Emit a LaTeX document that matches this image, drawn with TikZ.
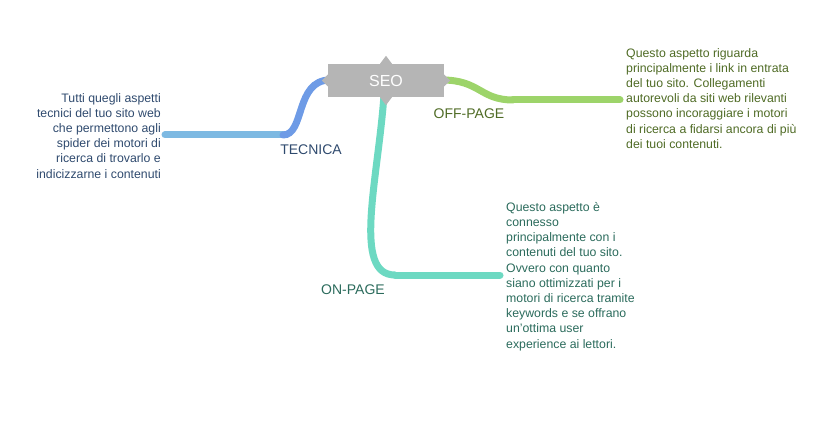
\documentclass[tikz,border=0pt]{standalone}
\usepackage{fontspec}
\setmainfont{Liberation Sans}
\usetikzlibrary{calc}
\definecolor{seogray}{HTML}{B5B5B5}
\definecolor{tecblue}{HTML}{6E9BE6}
\definecolor{teclight}{HTML}{7DB9E2}
\definecolor{offgreen}{HTML}{9DD46A}
\definecolor{onteal}{HTML}{6DD9C2}
\definecolor{tectext}{HTML}{2F4A6E}
\definecolor{offtext}{HTML}{4F6B25}
\definecolor{ontext}{HTML}{2B6B5C}
\tikzset{
  branch/.style={line width=7pt, line cap=round},
  note/.style={font=\fontsize{12.3}{15.2}\selectfont, inner sep=0pt, align=left},
  tag/.style={font=\fontsize{14}{16}\selectfont, inner sep=0pt}
}
\begin{document}
\begin{tikzpicture}[x=1pt,y=-1pt]
  \useasboundingbox (0,0) rectangle (836,425);

  % branches
  \coordinate (tl) at (165,135);
  \coordinate (tk) at (283,135);
  \draw[branch, teclight] (tl) -- (tk);
  \draw[branch, tecblue] (tk) .. controls (305,135) and (295,80) .. (330,80);

  \coordinate (ok) at (513,100);
  \coordinate (or) at (620,100);
  \draw[branch, offgreen] (442,80) .. controls (480,80) and (480,100) .. (ok);
  \draw[branch, offgreen] (ok) -- (or);

  \coordinate (nk) at (395,275);
  \coordinate (nr) at (500,275);
  \draw[branch, onteal] (384,95) .. controls (378,180) and (352,275) .. (nk);
  \draw[branch, onteal] (nk) -- (nr);

  % root
  \node[fill=seogray, minimum width=116pt, minimum height=33pt, inner sep=0pt,
        text=white, font=\fontsize{16}{18}\selectfont] (seo) at (386,80.5) {SEO};
  \fill[seogray] (seo.north) ++(-6,0) -- ++(6,-8) -- ++(6,8) -- cycle;
  \fill[seogray] (seo.south) ++(-6,0) -- ++(6,8) -- ++(6,-8) -- cycle;
  \fill[seogray] (seo.west) ++(0,-6) -- ++(-6,6) -- ++(6,6) -- cycle;
  \fill[seogray] (seo.east) ++(0,-6) -- ++(6,6) -- ++(-6,6) -- cycle;

  % labels
  \node[tag, text=tectext] (tecnica) at (311,150) {TECNICA};
  \node[tag, text=offtext] (offpage) at (469,114) {OFF-PAGE};
  \node[tag, text=ontext] (onpage) at (353,290) {ON-PAGE};

  % notes
  \node[note, align=right, anchor=north east, text=tectext] (tecnote) at (161,93)
    {Tutti quegli aspetti\\tecnici del tuo sito web\\che permettono agli\\spider dei motori di\\ricerca di trovarlo e\\indicizzarne i contenuti};
  \node[note, anchor=north west, text=offtext] (offnote) at (626,48)
    {Questo aspetto riguarda\\principalmente i link in entrata\\del tuo sito. Collegamenti\\autorevoli da siti web rilevanti\\possono incoraggiare i motori\\di ricerca a fidarsi ancora di più\\dei tuoi contenuti.};
  \node[note, anchor=north west, text=ontext] (onnote) at (506,202)
    {Questo aspetto è\\connesso\\principalmente con i\\contenuti del tuo sito.\\Ovvero con quanto\\siano ottimizzati per i\\motori di ricerca tramite\\keywords e se offrano\\un'ottima user\\experience ai lettori.};
\end{tikzpicture}
\end{document}
